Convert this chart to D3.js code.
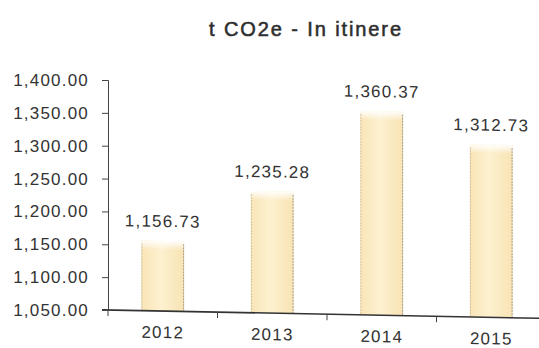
<!DOCTYPE html>
<html>
<head>
<meta charset="utf-8">
<script src="https://cdn.jsdelivr.net/npm/d3@7"></script>
<style>
  html, body { margin: 0; padding: 0; background: #fff; }
  svg text { font-family: "Liberation Sans", Arial, Helvetica, sans-serif; fill: #333; }
</style>
</head>
<body>
<div id="chart"></div>
<script>
// Emissions per year (t CO2e, commuting)
const years = ["2012", "2013", "2014", "2015"];
const values = [1156.73, 1235.28, 1360.37, 1312.73];
const yTicks = [1050, 1100, 1150, 1200, 1250, 1300, 1350, 1400];
const title = "t CO2e - In itinere";

const W = 539, H = 348;
const svg = d3.select("#chart").append("svg")
  .attr("width", W).attr("height", H);

const defs = svg.append("defs");
const hg = defs.append("linearGradient").attr("id", "barFill")
  .attr("x1", "0").attr("x2", "1").attr("y1", "0").attr("y2", "0");
hg.append("stop").attr("offset", "0%").attr("stop-color", "#f9e5b6");
hg.append("stop").attr("offset", "45%").attr("stop-color", "#fdf1d0");
hg.append("stop").attr("offset", "100%").attr("stop-color", "#f8e3b3");
const vg = defs.append("linearGradient").attr("id", "barCap")
  .attr("x1", "0").attr("x2", "0").attr("y1", "0").attr("y2", "1");
vg.append("stop").attr("offset", "0%").attr("stop-color", "#fff").attr("stop-opacity", 0.95);
vg.append("stop").attr("offset", "100%").attr("stop-color", "#fff").attr("stop-opacity", 0);

const left = 108, baseY = 310, topY = 80;
const y = d3.scaleLinear().domain([1050, 1400]).range([baseY, topY]);
const x = d3.scaleBand().domain(years).range([left, left + 438]).padding(0);
const barW = x.bandwidth() * 0.39;
const fmt = d3.format(",.2f");

svg.append("text")
  .attr("x", 306).attr("y", 36)
  .attr("text-anchor", "middle")
  .style("font-size", "20px")
  .style("letter-spacing", "1.9px")
  .style("fill", "#2e2e2e")
  .style("stroke", "#2e2e2e")
  .style("stroke-width", "0.55px")
  .text(title);

// plotting area, slightly sheared downward to the right
const g = svg.append("g")
  .attr("transform", `translate(${left},0) skewY(1.1) translate(${-left},0)`);

const bars = g.selectAll(".bar").data(years).enter().append("g").attr("class", "bar");
const bx = d => x(d) + (x.bandwidth() - barW) / 2;
bars.append("rect")
  .attr("x", bx)
  .attr("y", (d, i) => y(values[i]))
  .attr("width", barW)
  .attr("height", (d, i) => baseY - y(values[i]))
  .attr("fill", "url(#barFill)");
bars.append("rect")
  .attr("x", bx)
  .attr("y", (d, i) => y(values[i]))
  .attr("width", barW)
  .attr("height", 9)
  .attr("fill", "url(#barCap)");
bars.append("line")
  .attr("x1", d => bx(d) + 0.5).attr("x2", d => bx(d) + 0.5)
  .attr("y1", (d, i) => y(values[i]) + 3).attr("y2", baseY)
  .attr("stroke", "#c4b898").attr("stroke-width", 0.8).attr("stroke-dasharray", "2,1");
bars.append("line")
  .attr("x1", d => bx(d) + barW - 0.5).attr("x2", d => bx(d) + barW - 0.5)
  .attr("y1", (d, i) => y(values[i]) + 3).attr("y2", baseY)
  .attr("stroke", "#9c9480").attr("stroke-width", 0.9).attr("stroke-dasharray", "2,1");

// value labels
bars.append("text")
  .attr("x", d => x(d) + x.bandwidth() / 2)
  .attr("y", (d, i) => y(values[i]) - 14)
  .attr("text-anchor", "middle")
  .style("font-size", "17px")
  .style("letter-spacing", "1.2px")
  .text((d, i) => fmt(values[i]));

// y axis
const yAxis = svg.append("g").attr("transform", `translate(${left},0)`)
  .call(d3.axisLeft(y).tickValues(yTicks).tickFormat(fmt).tickSize(6).tickPadding(13));
yAxis.select(".domain").attr("stroke", "#444");
yAxis.selectAll(".tick line").attr("stroke", "#444");
yAxis.selectAll("text")
  .style("font-size", "17px")
  .style("letter-spacing", "1.2px")
  .style("fill", "#333");

// x axis
g.append("line")
  .attr("x1", left - 6).attr("x2", W + 12)
  .attr("y1", baseY).attr("y2", baseY)
  .attr("stroke", "#333").attr("stroke-width", 1.6);
g.selectAll(".xtick").data(years).enter().append("line")
  .attr("x1", d => x(d)).attr("x2", d => x(d))
  .attr("y1", baseY).attr("y2", baseY + 6)
  .attr("stroke", "#444");
g.selectAll(".xlab").data(years).enter().append("text")
  .attr("x", d => x(d) + x.bandwidth() / 2)
  .attr("y", baseY + 27)
  .attr("text-anchor", "middle")
  .style("font-size", "17px")
  .style("letter-spacing", "1.2px")
  .text(d => d);
</script>
</body>
</html>
